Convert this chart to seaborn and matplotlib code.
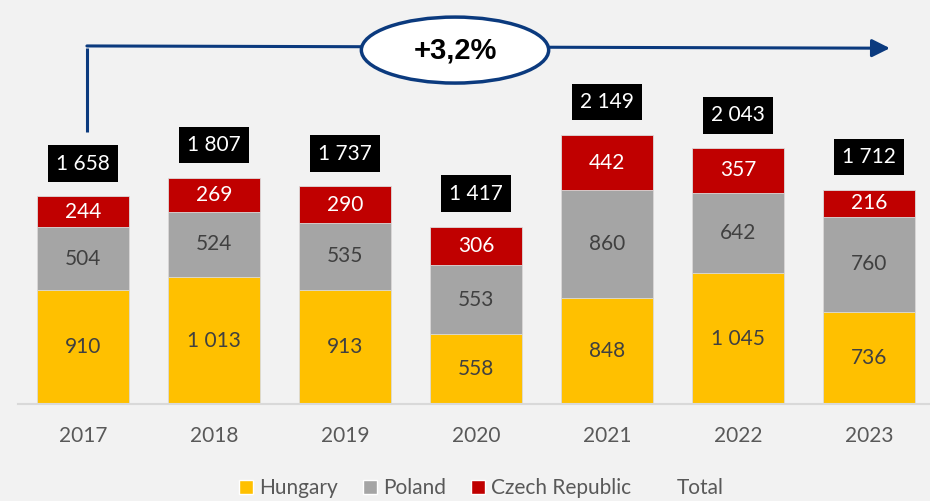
import matplotlib
matplotlib.use("Agg")
import matplotlib.pyplot as plt
from matplotlib.patches import Ellipse, Patch
import numpy as np
import pandas as pd
import seaborn as sns

# ---- data ----
years = ["2017", "2018", "2019", "2020", "2021", "2022", "2023"]
hungary = [910, 1013, 913, 558, 848, 1045, 736]
poland = [504, 524, 535, 553, 860, 642, 760]
czech = [244, 269, 290, 306, 442, 357, 216]
totals = [1658, 1807, 1737, 1417, 2149, 2043, 1712]
series_names = ["Hungary", "Poland", "Czech Republic", "Total"]
cagr_label = "+3,2%"

# ---- style ----
BG = "#f2f2f2"
C_HU, C_PL, C_CZ = "#FFC000", "#A5A5A5", "#C00000"
NAVY = "#0B3A7E"
TXT = "#404040"
TICK = "#595959"

sns.set_theme(style="white")
plt.rcParams["font.family"] = ["Lato", "DejaVu Sans"]

fig = plt.figure(figsize=(9.30, 5.01), dpi=100, facecolor=BG)
ax = fig.add_axes([18 / 930, 1 - 404 / 501, 1 - 18 / 930, 404 / 501])
ax.set_facecolor(BG)

df = pd.DataFrame({"year": years, "hu": hungary, "pl": poland, "cz": czech})
df["hu_pl"] = df["hu"] + df["pl"]
df["all"] = df["hu_pl"] + df["cz"]

common = dict(x="year", order=years, width=0.7, saturation=1, ax=ax,
              edgecolor="#dcdcdc", linewidth=0.6, errorbar=None)
sns.barplot(data=df, y="all", color=C_CZ, **common)
sns.barplot(data=df, y="hu_pl", color=C_PL, **common)
sns.barplot(data=df, y="hu", color=C_HU, **common)

ax.set_xlim(-0.496, 6.466)
ax.set_ylim(0, 3227)
ax.set_xlabel("")
ax.set_ylabel("")
ax.set_yticks([])
for s in ["left", "right", "top"]:
    ax.spines[s].set_visible(False)
ax.spines["bottom"].set_color("#d9d9d9")
ax.spines["bottom"].set_linewidth(1.5)
ax.tick_params(axis="x", length=0, pad=16, labelsize=15, labelcolor=TICK)

def fmt(v):
    return f"{v:,}".replace(",", " ")

FS = 15
for i in range(len(years)):
    h, p, c = hungary[i], poland[i], czech[i]
    ax.text(i, h / 2, fmt(h), ha="center", va="center", fontsize=FS, color=TXT)
    ax.text(i, h + p / 2, fmt(p), ha="center", va="center", fontsize=FS, color=TXT)
    ax.text(i, h + p + c / 2, fmt(c), ha="center", va="center", fontsize=FS, color="white")
    ax.text(i, totals[i] + 262, fmt(totals[i]), ha="center", va="center",
            fontsize=FS, color="white",
            bbox=dict(boxstyle="square,pad=0.4", facecolor="black", edgecolor="none"))

# ---- CAGR arrow ----
x0, y_low, y_top = 0.03, 2172, 2860
ax.plot([x0, x0], [y_low, y_top - 20], color=NAVY, lw=2.2, solid_capstyle="butt")
ax.annotate("", xy=(6.16, y_top - 18), xytext=(x0, y_top),
            arrowprops=dict(arrowstyle="-|>,head_length=0.9,head_width=0.45",
                            color=NAVY, lw=2.2, shrinkA=0, shrinkB=0))
ell = Ellipse((2.84, 2827), width=1.43, height=527, facecolor="white",
              edgecolor=NAVY, lw=2.5, zorder=5)
ax.add_patch(ell)
ax.text(2.84, 2827, cagr_label, ha="center", va="center", fontsize=21,
        fontweight="bold", family="Liberation Sans", color="black", zorder=6)

# ---- legend ----
handles = [Patch(facecolor=C_HU), Patch(facecolor=C_PL), Patch(facecolor=C_CZ),
           Patch(facecolor="none", edgecolor="none")]
leg = fig.legend(handles, series_names, loc="center", bbox_to_anchor=(481 / 930, 13 / 501),
                 ncol=4, frameon=False, fontsize=15, handlelength=0.67, handleheight=0.67,
                 handletextpad=0.3, columnspacing=1.2, labelcolor=TICK)

fig.savefig("out.png", dpi=100, facecolor=BG)
